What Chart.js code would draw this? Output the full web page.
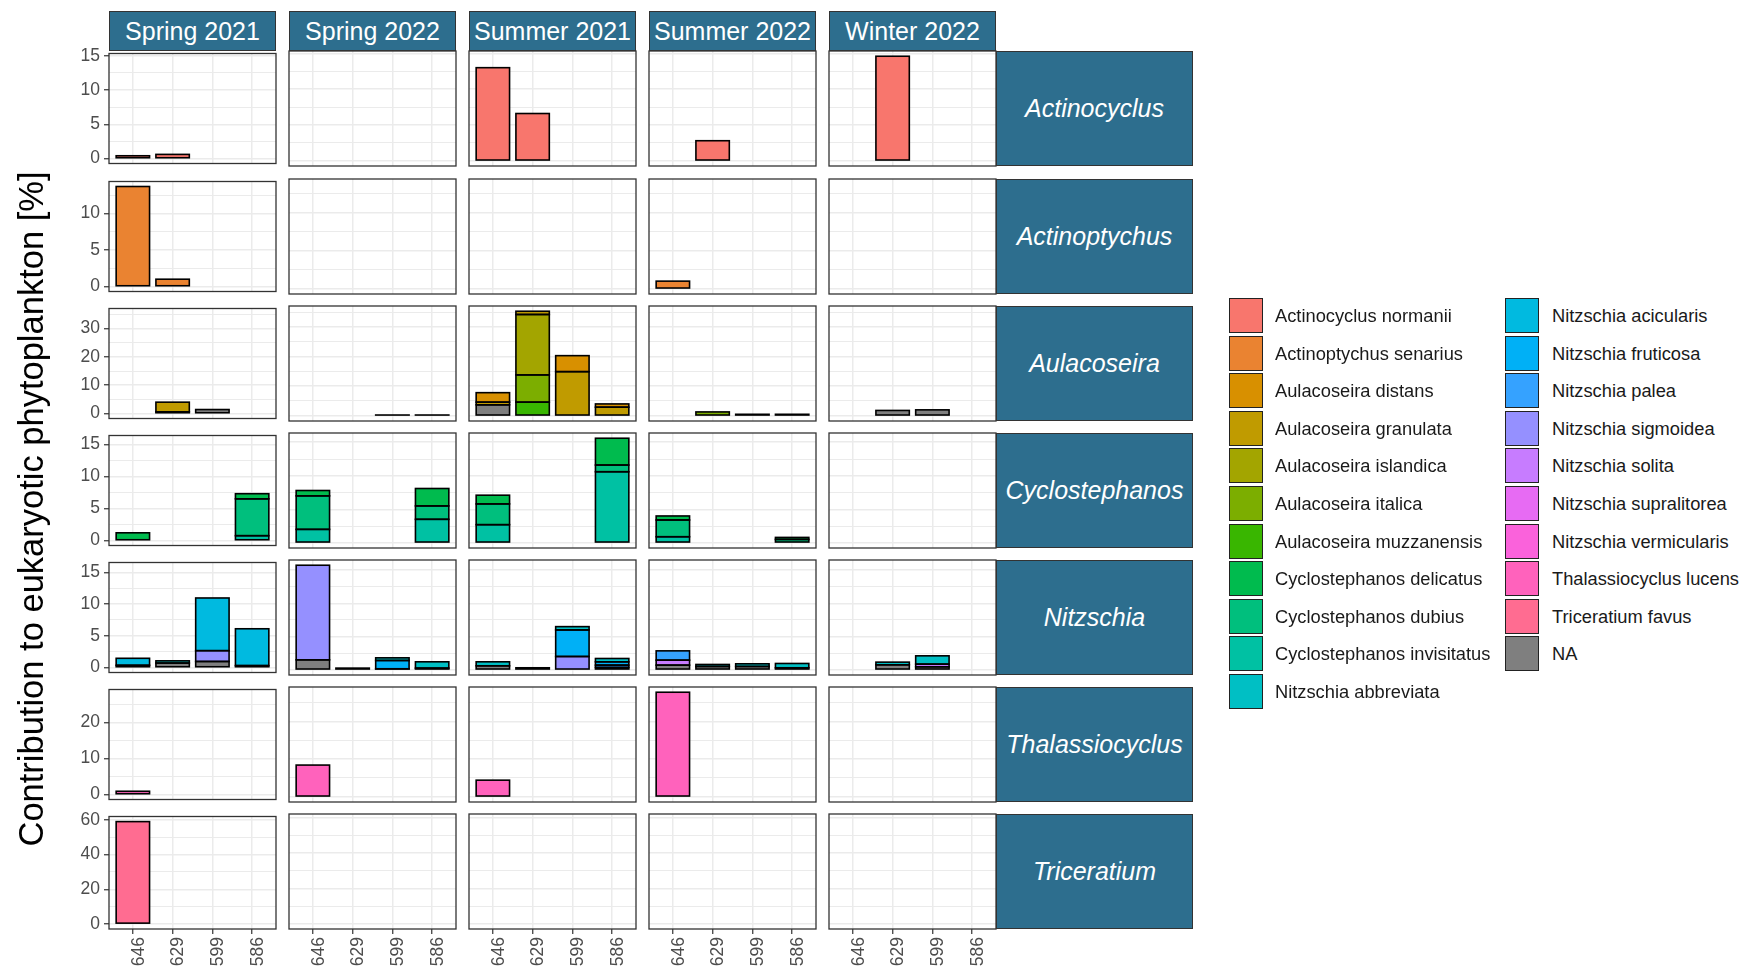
<!DOCTYPE html>
<html><head><meta charset="utf-8">
<script src="https://cdn.jsdelivr.net/npm/chart.js@4.4.0/dist/chart.umd.min.js"></script>
<style>
html,body{margin:0;padding:0;background:#fff;}
#wrap{position:relative;width:1742px;height:972px;overflow:hidden;font-family:"Liberation Sans",Arial,sans-serif;}
canvas.cv{position:absolute;}
.strip{position:absolute;background:#2D6E8E;border:1.3px solid #333;box-sizing:border-box;color:#fff;font-size:25px;display:flex;align-items:center;justify-content:center;white-space:nowrap;}
.rowstrip{font-style:italic;}
.ytitle{position:absolute;width:1000px;height:44px;line-height:44px;text-align:center;font-size:34.5px;color:#000;transform:rotate(-90deg);white-space:nowrap;}
.legbox{position:absolute;width:34px;height:35px;border:1.5px solid #222;box-sizing:border-box;}
.legtxt{position:absolute;font-size:18.3px;color:#1a1a1a;line-height:20px;white-space:nowrap;}
</style></head>
<body><div id="wrap"></div>
<script>
// ---------------- data ----------------
const seasons = ['Spring 2021','Spring 2022','Summer 2021','Summer 2022','Winter 2022'];
const sites = ['646','629','599','586'];
const genera = ['Actinocyclus','Actinoptychus','Aulacoseira','Cyclostephanos','Nitzschia','Thalassiocyclus','Triceratium'];
const yBreakSteps = [5,5,10,5,5,10,20];
const speciesNames = ['Actinocyclus normanii','Actinoptychus senarius','Aulacoseira distans','Aulacoseira granulata',
  'Aulacoseira islandica','Aulacoseira italica','Aulacoseira muzzanensis','Cyclostephanos delicatus','Cyclostephanos dubius',
  'Cyclostephanos invisitatus','Nitzschia abbreviata','Nitzschia acicularis','Nitzschia fruticosa','Nitzschia palea',
  'Nitzschia sigmoidea','Nitzschia solita','Nitzschia supralitorea','Nitzschia vermicularis','Thalassiocyclus lucens',
  'Triceratium favus','NA'];
const speciesColors = ['#F8766D','#EA8331','#D89000','#C09B00','#A3A500','#7CAE00','#39B600','#00BB4E','#00BF7D',
  '#00C1A3','#00BFC4','#00BAE0','#00B0F6','#35A2FF','#9590FF','#C77CFF','#E76BF3','#FA62DB','#FF62BC','#FF6C91','#7F7F7F'];

const N = null;
// values: 5 seasons x 4 sites (646, 629, 599, 586), in % ; null = no bar
const actinocyclusNormanii      = [0.4,0.6,N,N,   N,N,N,N,        13.0,6.6,N,N,     N,2.8,N,N,       N,14.6,N,N];
const actinoptychusSenarius     = [13.7,1.0,N,N,  N,N,N,N,        N,N,N,N,          1.0,N,N,N,       N,N,N,N];
const aulacoseiraDistans        = [N,N,N,N,       N,N,N,N,        3.2,N,5.4,1.1,    N,N,N,N,         N,N,N,N];
const aulacoseiraGranulata      = [N,3.4,N,N,     N,N,N,N,        0.9,1.1,14.9,2.9, N,N,N,N,         N,N,N,N];
const aulacoseiraIslandica      = [N,0.6,N,N,     N,N,N,N,        N,20.4,N,N,       N,N,N,N,         N,N,N,N];
const aulacoseiraItalica        = [N,N,N,N,       N,N,N,N,        N,9.2,N,N,        N,1.3,N,N,       N,N,N,N];
const aulacoseiraMuzzanensis    = [N,N,N,N,       N,N,N,N,        N,4.6,N,N,        N,N,N,N,         N,N,N,N];
const aulacoseiraNA             = [N,N,1.4,N,     N,N,0.25,0.25,  3.7,N,N,N,        N,N,0.5,0.5,     N,1.8,2.0,N];
const cyclostephanosDelicatus   = [1.2,N,N,0.8,   0.8,N,N,2.6,    1.3,N,N,4.0,      0.6,N,N,0.3,     N,N,N,N];
const cyclostephanosDubius      = [N,N,N,5.75,    5.0,N,N,2.0,    3.1,N,N,1.0,      2.5,N,N,0.5,     N,N,N,N];
const cyclostephanosInvisitatus = [N,N,N,0.75,    2.0,N,N,3.5,    2.7,N,N,10.6,     0.9,N,N,N,       N,N,N,N];
const nitzschiaAbbreviata       = [N,0.35,N,N,    N,N,0.4,0.95,   0.6,N,0.5,0.5,    N,0.3,0.4,0.65,  N,0.4,1.25,N];
const nitzschiaAcicularis       = [1.1,N,8.3,5.8, N,N,N,N,        N,N,N,N,          N,N,N,N,         N,N,N,N];
const nitzschiaFruticosa        = [N,N,N,N,       N,N,1.25,N,     N,N,4.0,0.5,      N,N,N,N,         N,N,N,N];
const nitzschiaPalea            = [N,N,N,N,       N,N,N,N,        N,N,N,0.35,       1.4,N,N,N,       N,N,N,N];
const nitzschiaSigmoidea        = [N,N,1.7,N,     14.25,N,N,N,    N,N,2.0,N,        N,N,N,N,         N,N,N,N];
const nitzschiaSolita           = [N,N,N,N,       N,N,N,N,        N,N,N,N,          0.75,N,N,N,      N,N,0.4,N];
const nitzschiaSupralitorea     = [N,N,N,N,       N,N,N,N,        N,N,N,N,          N,N,N,N,         N,N,N,N];
const nitzschiaVermicularis     = [N,N,N,N,       N,N,N,N,        N,N,N,N,          N,N,N,N,         N,N,N,N];
const nitzschiaNA               = [0.35,0.7,0.95,0.3, 1.5,0.25,0.15,0.25, 0.6,0.3,N,0.35, 0.7,0.5,0.5,0.3, N,0.75,0.45,N];
const thalassiocyclusLucens     = [0.9,N,N,N,     8.4,N,N,N,      4.4,N,N,N,        27.7,N,N,N,      N,N,N,N];
const triceratiumFavus          = [59.1,N,N,N,    N,N,N,N,        N,N,N,N,          N,N,N,N,         N,N,N,N];

// species shown in each genus row (legend order; NA last)
const rowSpecies = [
  [['Actinocyclus normanii', actinocyclusNormanii]],
  [['Actinoptychus senarius', actinoptychusSenarius]],
  [['Aulacoseira distans', aulacoseiraDistans], ['Aulacoseira granulata', aulacoseiraGranulata],
   ['Aulacoseira islandica', aulacoseiraIslandica], ['Aulacoseira italica', aulacoseiraItalica],
   ['Aulacoseira muzzanensis', aulacoseiraMuzzanensis], ['NA', aulacoseiraNA]],
  [['Cyclostephanos delicatus', cyclostephanosDelicatus], ['Cyclostephanos dubius', cyclostephanosDubius],
   ['Cyclostephanos invisitatus', cyclostephanosInvisitatus]],
  [['Nitzschia abbreviata', nitzschiaAbbreviata], ['Nitzschia acicularis', nitzschiaAcicularis],
   ['Nitzschia fruticosa', nitzschiaFruticosa], ['Nitzschia palea', nitzschiaPalea],
   ['Nitzschia sigmoidea', nitzschiaSigmoidea], ['Nitzschia solita', nitzschiaSolita],
   ['Nitzschia supralitorea', nitzschiaSupralitorea], ['Nitzschia vermicularis', nitzschiaVermicularis],
   ['NA', nitzschiaNA]],
  [['Thalassiocyclus lucens', thalassiocyclusLucens]],
  [['Triceratium favus', triceratiumFavus]]
];

// ---------------- layout ----------------
const panelLeft0 = 109, pitchX = 180, panelW = 167;
const panelTops = [51, 179, 306, 433, 560, 687, 814], panelH = 115;
const stripTop = 11, rowStripW = 197;
const PAD = 12, yAxisW = 109, xAxisH = 43;
const FONT = '"Liberation Sans", Arial, sans-serif';

Chart.defaults.font.family = FONT;
const wrap = document.getElementById('wrap');

// ggplot-like outline: stroke centred on each bar element's edges
const barOutline = {
  id: 'barOutline',
  afterDatasetsDraw(chart) {
    const ctx = chart.ctx;
    ctx.save(); ctx.strokeStyle = '#000000'; ctx.lineWidth = 1.6; ctx.lineJoin = 'miter';
    chart.getSortedVisibleDatasetMetas().forEach(meta => {
      const ds = chart.data.datasets[meta.index];
      meta.data.forEach((el, i) => {
        if (ds.data[i] == null) return;
        const p = el.getProps(['x', 'y', 'base', 'width'], true);
        const top = Math.min(p.y, p.base), h = Math.abs(p.base - p.y);
        ctx.strokeRect(p.x - p.width / 2, top, p.width, h);
      });
    });
    ctx.restore();
  }
};
const panelBorder = {
  id: 'panelBorder',
  afterDraw(chart) {
    const {ctx, chartArea: a} = chart;
    ctx.save(); ctx.strokeStyle = '#333333'; ctx.lineWidth = 1.3;
    ctx.strokeRect(a.left, a.top, a.right - a.left, a.bottom - a.top);
    ctx.restore();
  }
};

function rowMax(r) {
  let m = 0;
  for (let s = 0; s < seasons.length; s++) for (let k = 0; k < sites.length; k++) {
    let t = 0; rowSpecies[r].forEach(([, arr]) => { const v = arr[s * 4 + k]; if (v != null) t += v; });
    m = Math.max(m, t);
  }
  return m;
}

genera.forEach((g, r) => {
  const top = panelTops[r];
  const dMax = rowMax(r);
  const yMin = -0.05 * dMax, yMax = 1.05 * dMax;
  const step = yBreakSteps[r];
  const isMajor = v => Math.abs(v / step - Math.round(v / step)) < 1e-6;
  const isBottom = r === genera.length - 1;

  seasons.forEach((sName, c) => {
    const isLeft = c === 0;
    const left = panelLeft0 + c * pitchX;
    const cvLeft = isLeft ? 0 : left - PAD;
    const padL = isLeft ? 0 : PAD;
    const cvW = (isLeft ? yAxisW : PAD) + panelW + PAD;
    const cvTop = top - PAD;
    const cvH = PAD + panelH + (isBottom ? xAxisH : PAD);

    const cv = document.createElement('canvas');
    cv.className = 'cv'; cv.width = cvW; cv.height = cvH;
    cv.style.left = cvLeft + 'px'; cv.style.top = cvTop + 'px';
    cv.style.width = cvW + 'px'; cv.style.height = cvH + 'px';
    wrap.appendChild(cv);

    const datasets = rowSpecies[r].slice().reverse().map(([name, arr]) => {
      const idx = speciesNames.indexOf(name);
      return {
        label: name,
        data: sites.map((_, k) => arr[c * 4 + k]),
        backgroundColor: speciesColors[idx],
        borderWidth: 0, borderSkipped: false,
        barPercentage: 0.84, categoryPercentage: 1.0
      };
    });

    new Chart(cv, {
      type: 'bar',
      data: { labels: sites, datasets },
      options: {
        responsive: false, animation: false, devicePixelRatio: 1, events: [],
        layout: { padding: { left: padL, top: PAD, right: PAD, bottom: isBottom ? 0 : PAD } },
        plugins: { legend: { display: false }, tooltip: { enabled: false } },
        scales: {
          x: {
            type: 'category', stacked: true, offset: true,
            afterBuildTicks: s => { s._startValue -= 0.1; s._valueRange += 0.2; },
            afterFit: s => { s.height = isBottom ? xAxisH : 0; },
            border: { display: false },
            grid: { offset: false, color: '#EBEBEB', lineWidth: 1.5, drawTicks: isBottom, tickLength: 5,
                    tickColor: '#333333', tickWidth: 1.2 },
            ticks: { display: isBottom, autoSkip: false, minRotation: 90, maxRotation: 90, padding: 3,
                     labelOffset: 6, color: '#4D4D4D', font: { size: 17.5 } }
          },
          y: {
            type: 'linear', stacked: true, min: yMin, max: yMax,
            afterBuildTicks: s => {
              const st = step / 2, t = [];
              for (let v = Math.ceil(yMin / st) * st; v <= yMax + 1e-9; v += st) t.push({ value: Math.round(v * 1000) / 1000 });
              s.ticks = t;
            },
            afterFit: s => { s.width = isLeft ? yAxisW : 0; },
            border: { display: false },
            grid: { color: '#EBEBEB',
                    lineWidth: ctx => (ctx.tick && isMajor(ctx.tick.value)) ? 1.5 : 1.0,
                    drawTicks: isLeft, tickLength: 5,
                    tickColor: ctx => (ctx.tick && isMajor(ctx.tick.value)) ? '#333333' : 'rgba(0,0,0,0)',
                    tickWidth: 1.2 },
            ticks: { display: isLeft, autoSkip: false, padding: 4, color: '#4D4D4D', font: { size: 17.5 },
                     callback: v => isMajor(v) ? String(Math.round(v)) : '' }
          }
        }
      },
      plugins: [barOutline, panelBorder]
    });

    if (r === 0) {
      const st = document.createElement('div');
      st.className = 'strip';
      st.style.left = left + 'px'; st.style.top = stripTop + 'px';
      st.style.width = panelW + 'px'; st.style.height = (top - stripTop) + 'px';
      st.textContent = sName;
      wrap.appendChild(st);
    }
  });

  const rs = document.createElement('div');
  rs.className = 'strip rowstrip';
  rs.style.left = (panelLeft0 + 4 * pitchX + panelW) + 'px'; rs.style.top = top + 'px';
  rs.style.width = rowStripW + 'px'; rs.style.height = panelH + 'px';
  rs.textContent = g;
  wrap.appendChild(rs);
});

// y axis title
const yt = document.createElement('div');
yt.className = 'ytitle';
yt.style.left = (31 - 500) + 'px'; yt.style.top = (509 - 22) + 'px';
yt.textContent = 'Contribution to eukaryotic phytoplankton [%]';
wrap.appendChild(yt);

// legend
const legCols = [{ box: 1229, txt: 1275 }, { box: 1505, txt: 1552 }];
const legTop = 298, legPitch = 37.6;
speciesNames.forEach((name, i) => {
  const col = i < 11 ? 0 : 1, row = i < 11 ? i : i - 11;
  const y = Math.round(legTop + row * legPitch);
  const b = document.createElement('div');
  b.className = 'legbox'; b.style.left = legCols[col].box + 'px'; b.style.top = y + 'px';
  b.style.background = speciesColors[i];
  wrap.appendChild(b);
  const t = document.createElement('div');
  t.className = 'legtxt'; t.style.left = legCols[col].txt + 'px'; t.style.top = (y + 7.5) + 'px';
  t.textContent = name;
  wrap.appendChild(t);
});
</script>
</body></html>
